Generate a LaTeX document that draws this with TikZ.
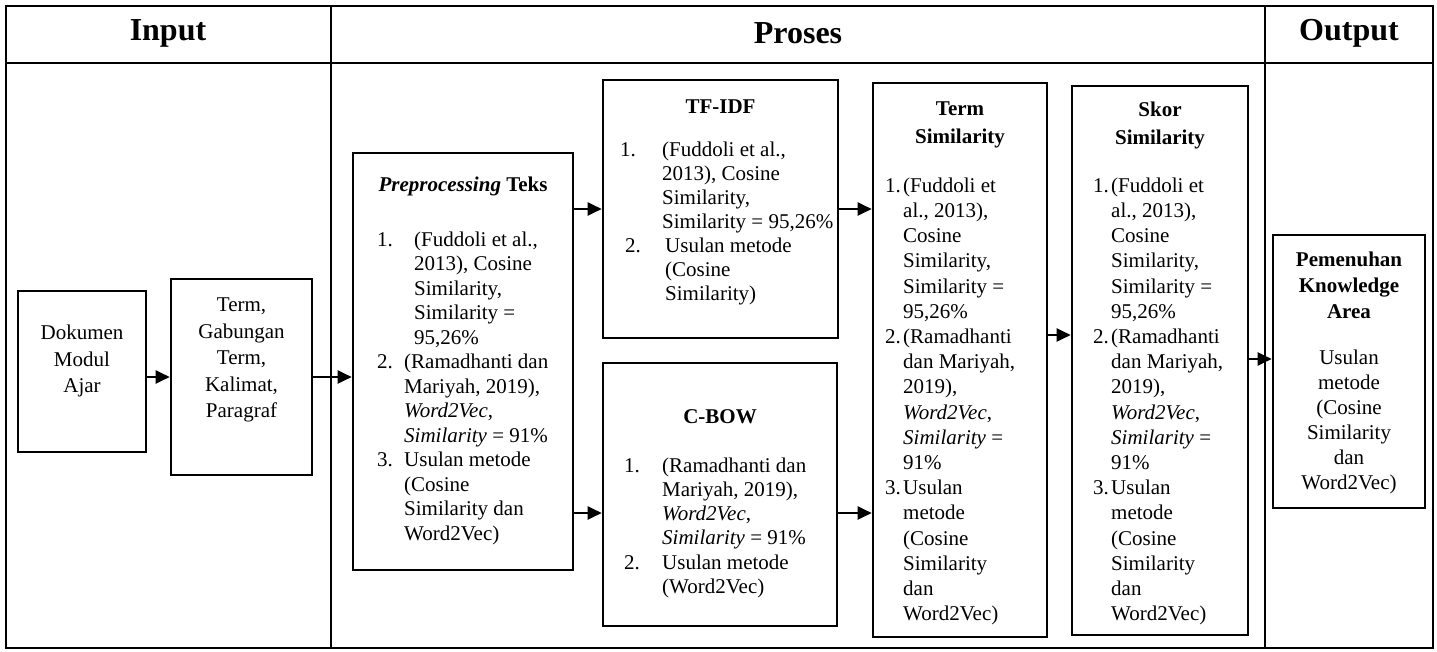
\documentclass[tikz,border=0pt]{standalone}
\usepackage{fontspec}
\setmainfont{Liberation Serif}
\usetikzlibrary{arrows.meta}
\newcommand\nb[2]{\makebox[#1][l]{#2}}
\begin{document}
\begin{tikzpicture}[x=1pt,y=-1pt,
  tbl/.style={line width=2.4pt},
  panel/.style={draw, line width=2.6pt, rectangle, inner sep=0pt},
  arr/.style={line width=2pt, -{Triangle[length=14pt,width=13pt]}},
  txt/.style={inner sep=0pt, align=left, anchor=north west},
  head/.style={inner sep=0pt, font=\fontsize{32}{36}\selectfont\bfseries},
  ttl/.style={inner sep=0pt, align=center, font=\fontsize{21}{28}\selectfont\bfseries},
  ctr/.style={inner sep=0pt, align=center}
]
\useasboundingbox (0,0) rectangle (1437,652);

% table frame
\draw[tbl] (6,6) rectangle (1433,648);
\draw[tbl] (6,63) -- (1433,63);
\draw[tbl] (331,6) -- (331,648);
\draw[tbl] (1265,6) -- (1265,648);

% column headings
\node[head] (hin)  at (168,33) {Input};
\node[head] (hpro) at (798,33) {Proses};
\node[head] (hout) at (1349,33) {Output};

% boxes
\node[panel, minimum width=128pt, minimum height=161pt] (dok)  at (82,371.5) {};
\node[panel, minimum width=141pt, minimum height=196pt] (term) at (241.5,377) {};
\node[panel, minimum width=220pt, minimum height=417pt] (pre)  at (463,361.5) {};
\node[panel, minimum width=235pt, minimum height=258pt] (tfidf) at (720.5,209) {};
\node[panel, minimum width=234pt, minimum height=263pt] (cbow) at (720,494.5) {};
\node[panel, minimum width=174pt, minimum height=554pt] (tsim) at (960,360) {};
\node[panel, minimum width=176pt, minimum height=549pt] (skor) at (1160,360.5) {};
\node[panel, minimum width=152pt, minimum height=273pt] (pem)  at (1349,371.5) {};

% input texts
\node[ctr, font=\fontsize{21}{26.5}\selectfont] (dokt) at (82,361) {Dokumen\\Modul\\Ajar};
\node[ctr, font=\fontsize{21}{26.5}\selectfont] (termt) at (241.5,360) {Term,\\Gabungan\\Term,\\Kalimat,\\Paragraf};

% preprocessing
\node[ttl] (pret) at (463,186) {\textit{Preprocessing} Teks};
\node[txt, font=\fontsize{21}{24.5}\selectfont] (prel) at (377,231.5) {%
\nb{37pt}{1.}(Fuddoli et al.,\\
\hspace*{37pt}2013), Cosine\\
\hspace*{37pt}Similarity,\\
\hspace*{37pt}Similarity =\\
\hspace*{37pt}95,26\%\\
\nb{27pt}{2.}(Ramadhanti dan\\
\hspace*{27pt}Mariyah, 2019),\\
\hspace*{27pt}\textit{Word2Vec},\\
\hspace*{27pt}\textit{Similarity} = 91\%\\
\nb{27pt}{3.}Usulan metode\\
\hspace*{27pt}(Cosine\\
\hspace*{27pt}Similarity dan\\
\hspace*{27pt}Word2Vec)};

% TF-IDF
\node[ttl] (tft) at (720.5,107) {TF-IDF};
\node[txt, font=\fontsize{21}{24}\selectfont] (tfl) at (620,141.5) {%
\nb{42pt}{1.}(Fuddoli et al.,\\
\hspace*{42pt}2013), Cosine\\
\hspace*{42pt}Similarity,\\
\hspace*{42pt}Similarity = 95,26\%\\
\hspace*{5pt}\nb{40pt}{2.}Usulan metode\\
\hspace*{45pt}(Cosine\\
\hspace*{45pt}Similarity)};

% C-BOW
\node[ttl] (cbt) at (720,417) {C-BOW};
\node[txt, font=\fontsize{21}{24.2}\selectfont] (cbl) at (624,457.5) {%
\nb{38pt}{1.}(Ramadhanti dan\\
\hspace*{38pt}Mariyah, 2019),\\
\hspace*{38pt}\textit{Word2Vec},\\
\hspace*{38pt}\textit{Similarity} = 91\%\\
\nb{38pt}{2.}Usulan metode\\
\hspace*{38pt}(Word2Vec)};

% term similarity
\node[ttl] (tst) at (960,125) {Term\\Similarity};
\node[txt, font=\fontsize{21}{25.2}\selectfont] (tsl) at (885,177.5) {%
\nb{18pt}{1.}(Fuddoli et\\
\hspace*{18pt}al., 2013),\\
\hspace*{18pt}Cosine\\
\hspace*{18pt}Similarity,\\
\hspace*{18pt}Similarity =\\
\hspace*{18pt}95,26\%\\
\nb{18pt}{2.}(Ramadhanti\\
\hspace*{18pt}dan Mariyah,\\
\hspace*{18pt}2019),\\
\hspace*{18pt}\textit{Word2Vec},\\
\hspace*{18pt}\textit{Similarity} =\\
\hspace*{18pt}91\%\\
\nb{18pt}{3.}Usulan\\
\hspace*{18pt}metode\\
\hspace*{18pt}(Cosine\\
\hspace*{18pt}Similarity\\
\hspace*{18pt}dan\\
\hspace*{18pt}Word2Vec)};

% skor similarity
\node[ttl] (skt) at (1160,125) {Skor\\Similarity};
\node[txt, font=\fontsize{21}{25.2}\selectfont] (skl) at (1093,177.5) {%
\nb{18pt}{1.}(Fuddoli et\\
\hspace*{18pt}al., 2013),\\
\hspace*{18pt}Cosine\\
\hspace*{18pt}Similarity,\\
\hspace*{18pt}Similarity =\\
\hspace*{18pt}95,26\%\\
\nb{18pt}{2.}(Ramadhanti\\
\hspace*{18pt}dan Mariyah,\\
\hspace*{18pt}2019),\\
\hspace*{18pt}\textit{Word2Vec},\\
\hspace*{18pt}\textit{Similarity} =\\
\hspace*{18pt}91\%\\
\nb{18pt}{3.}Usulan\\
\hspace*{18pt}metode\\
\hspace*{18pt}(Cosine\\
\hspace*{18pt}Similarity\\
\hspace*{18pt}dan\\
\hspace*{18pt}Word2Vec)};

% output
\node[ttl, font=\fontsize{21}{26}\selectfont\bfseries] (pemt) at (1349,285) {Pemenuhan\\Knowledge\\Area};
\node[ctr, font=\fontsize{21}{25}\selectfont] (peml) at (1349,422) {Usulan\\metode\\(Cosine\\Similarity\\dan\\Word2Vec)};

% arrow rows
\coordinate (r1) at (0,377);
\coordinate (r2) at (0,209);
\coordinate (r3) at (0,513);
\coordinate (r4) at (0,335);
\coordinate (r5) at (0,359);

\draw[arr] (dok.east |- r1) -- (term.west |- r1);
\draw[arr] (term.east |- r1) -- (pre.west |- r1);
\draw[arr] (pre.east |- r2) -- (tfidf.west |- r2);
\draw[arr] (pre.east |- r3) -- (cbow.west |- r3);
\draw[arr] (tfidf.east |- r2) -- (tsim.west |- r2);
\draw[arr] (cbow.east |- r3) -- (tsim.west |- r3);
\draw[arr] (tsim.east |- r4) -- (skor.west |- r4);
\draw[arr] (skor.east |- r5) -- (pem.west |- r5);
\end{tikzpicture}
\end{document}
